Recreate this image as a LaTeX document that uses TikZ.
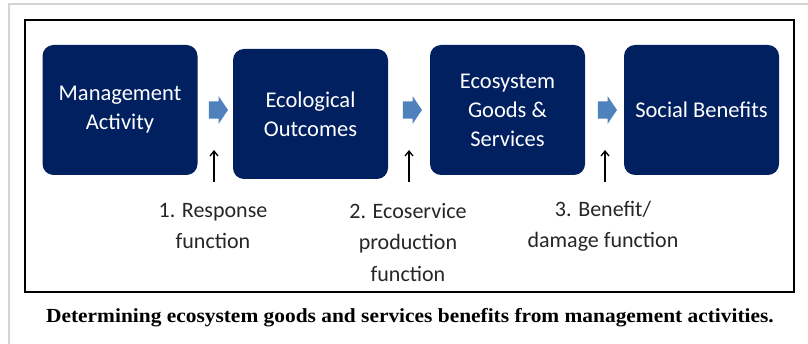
\documentclass[tikz,border=0pt]{standalone}
\usepackage{fontspec}
\setmainfont{Liberation Serif}
\newfontfamily\calfont{Carlito}
\usetikzlibrary{shapes.arrows,arrows.meta}
\definecolor{boxnavy}{HTML}{002060}
\definecolor{flowblue}{HTML}{4F81BD}
\definecolor{framegray}{HTML}{D4D4D4}

\begin{document}
\begin{tikzpicture}[x=1pt, y=-1pt,
  stage/.style={rectangle, rounded corners=11pt, fill=boxnavy, text=white,
    minimum width=155pt, minimum height=130pt, inner sep=0pt, align=center,
    font=\calfont\fontsize{22.5}{29}\selectfont},
  flow/.style={single arrow, fill=flowblue, minimum height=19pt,
    inner xsep=0pt, inner ysep=8.5pt, single arrow head extend=5pt,
    single arrow tip angle=112},
  fn/.style={anchor=north, inner sep=0pt, align=center, text=black!85,
    font=\calfont\fontsize{22}{31.5}\selectfont}]
\useasboundingbox (0,0) rectangle (808,344);
\fill[white] (0,0) rectangle (808,344);

% page frame and figure frame
\draw[framegray, line width=1.2pt] (9,344) -- (9,4) -- (808,4);
\draw[line width=1.4pt] (25,20) rectangle (794,292);

% the four stages
\node[stage] (mgmt) at (120,110) {Management\\Activity};
\node[stage] (ecol) at (310.5,114) {Ecological\\Outcomes};
\node[stage] (egs) at (507.5,110) {Ecosystem\\Goods \&\\Services};
\node[stage] (soc) at (701.5,110) {Social Benefits};

% block arrows between stages
\node[flow] (f1) at (215.5,110) {};
\node[flow] (f2) at (409.5,110) {};
\node[flow] (f3) at (604.5,110) {};

% functions linking the stages
\node[fn] (fn1) at (213,203) {1. Response\\function};
\node[fn] (fn2) at (408,203) {2. Ecoservice\\production\\function};
\node[fn] (fn3) at (603,201) {3. Benefit/\\damage function};

\foreach \i/\x in {1/214,2/409,3/605}
{
\coordinate (tail\i) at (\x,182);
\coordinate (tip\i) at (\x,150);
\draw[-{Straight Barb[length=5pt,width=8pt]}, line width=1.3pt] (tail\i) -- (tip\i);
}

\node[anchor=base, xscale=1.07, font=\bfseries\fontsize{20}{23}\selectfont] (cap) at (410,323)
  {Determining ecosystem goods and services benefits from management activities.};
\end{tikzpicture}
\end{document}
